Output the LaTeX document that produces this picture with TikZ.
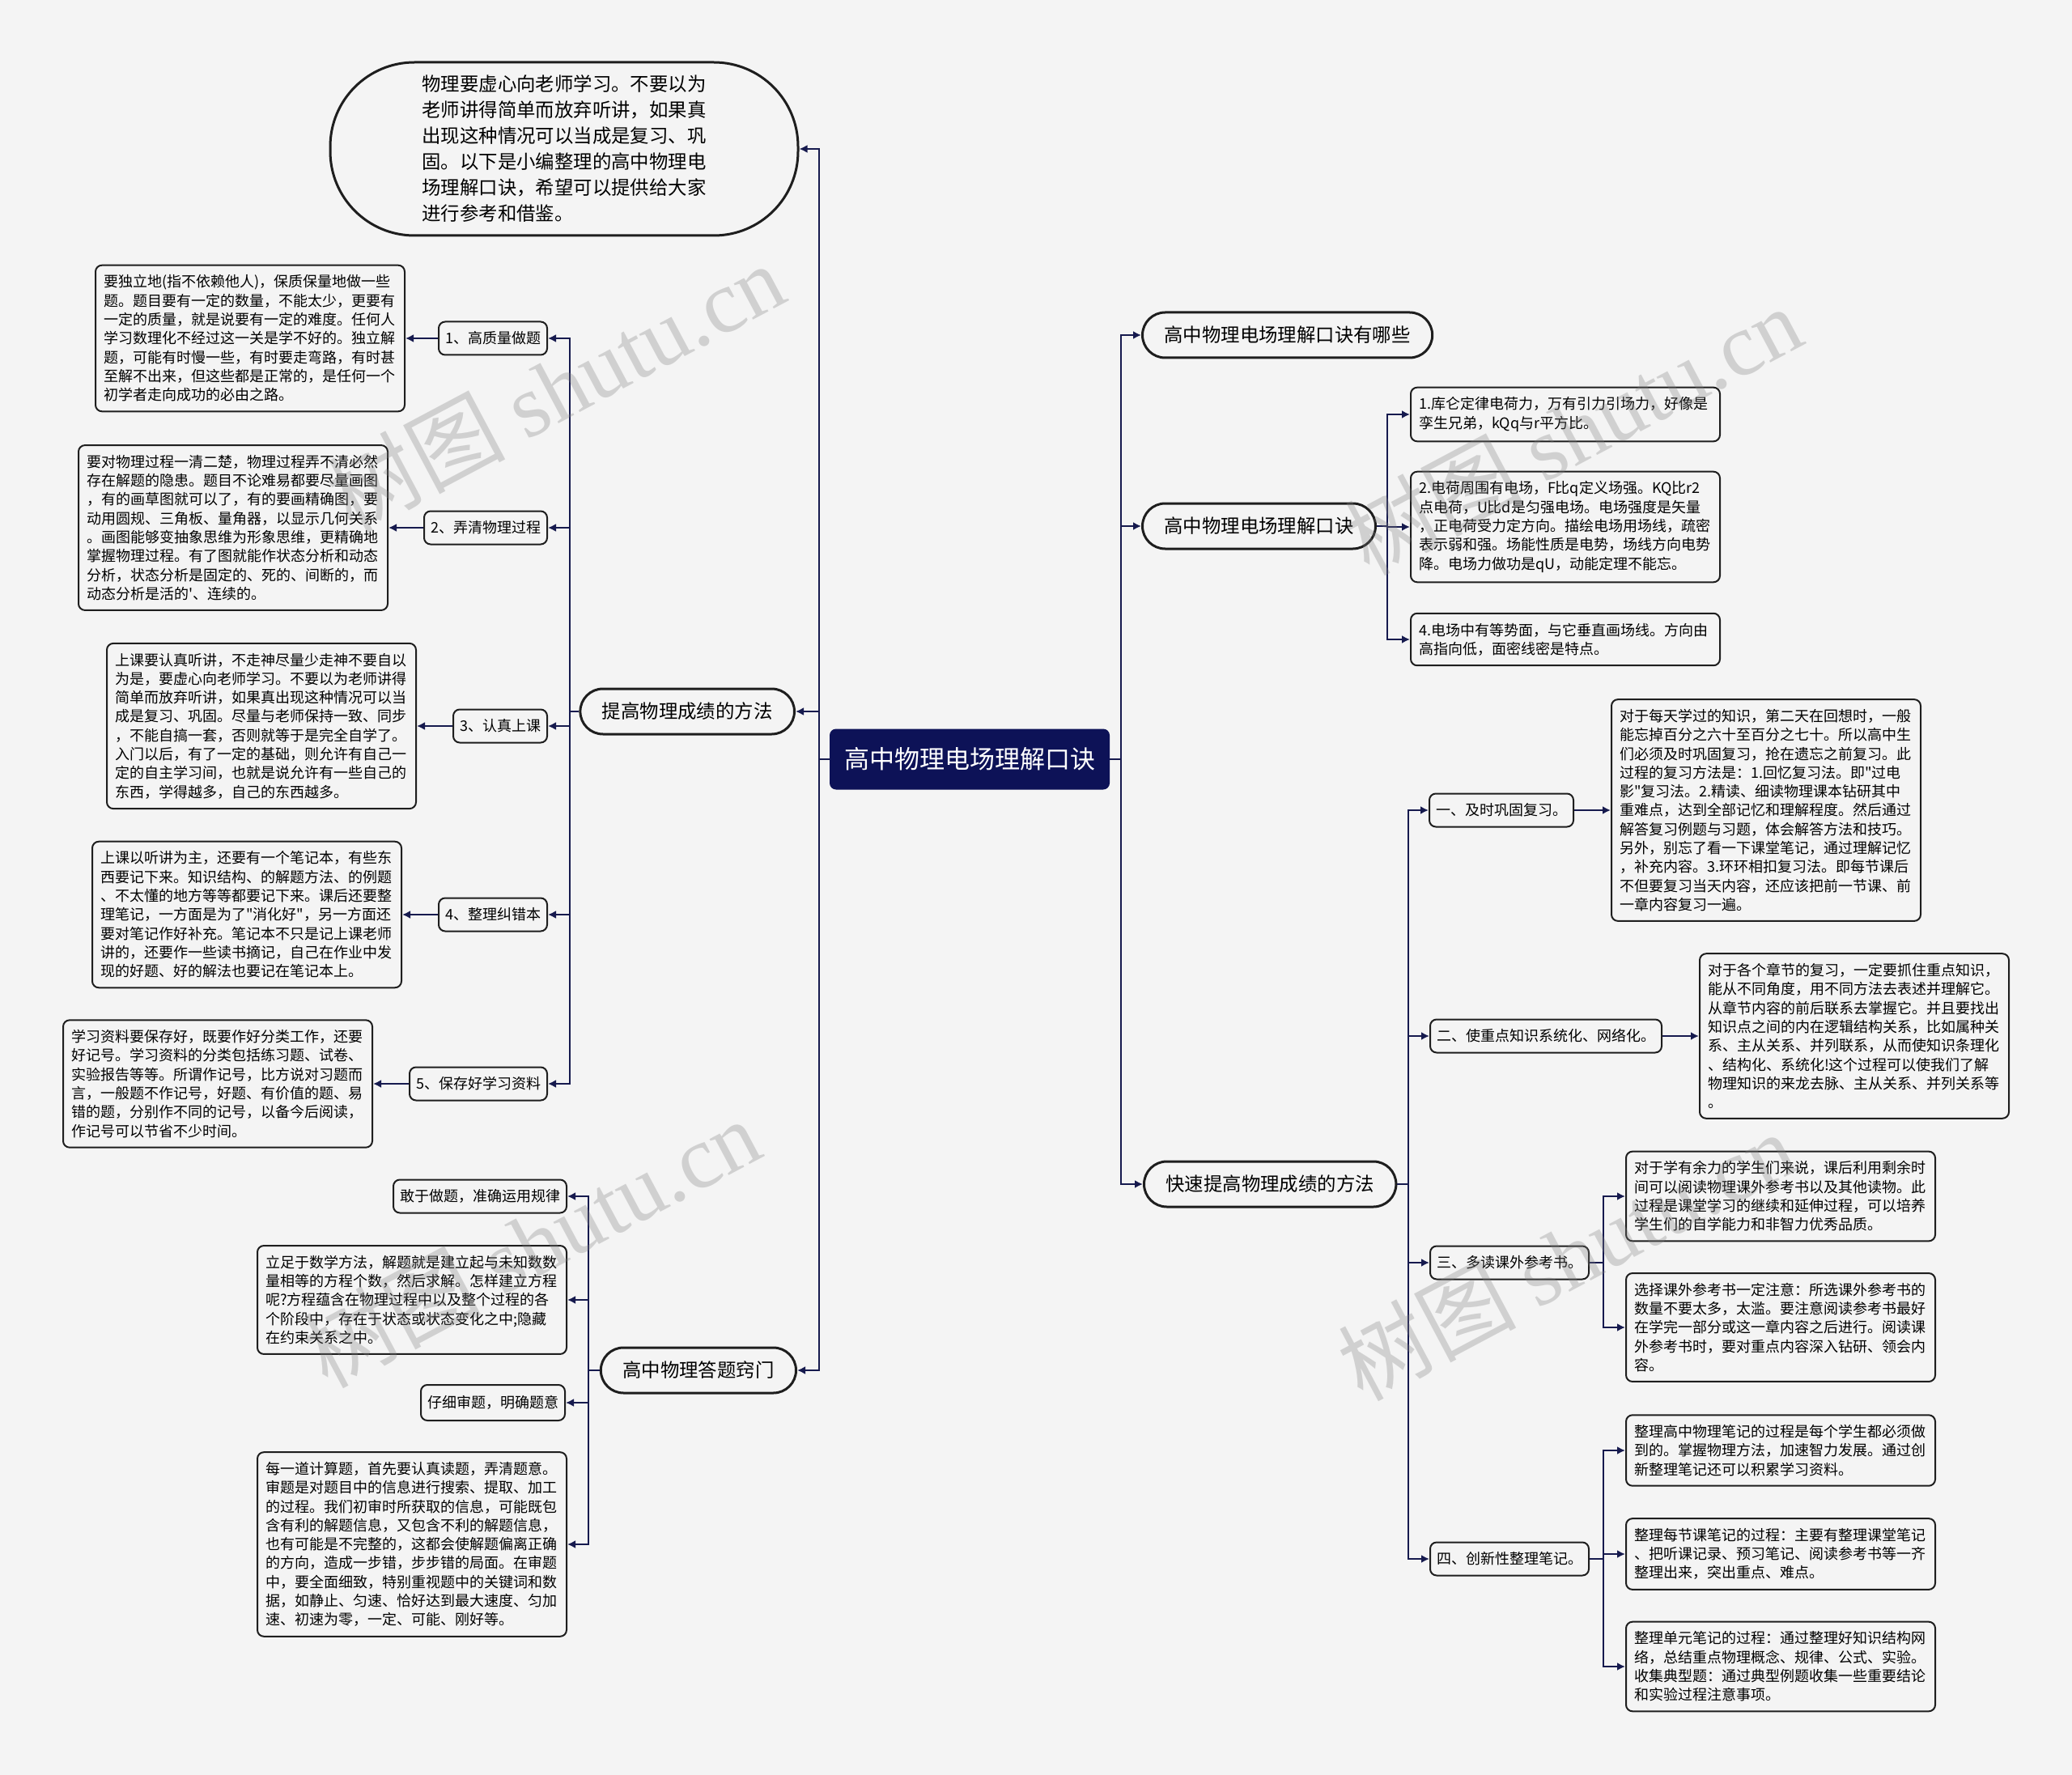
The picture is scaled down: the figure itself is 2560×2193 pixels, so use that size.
\documentclass[tikz,border=0pt]{standalone}
\usepackage{fontspec}
\setmainfont{Noto Sans CJK SC}[Ligatures=TeXOff]
\newfontfamily\wmlatin{Liberation Serif}
\usetikzlibrary{arrows.meta}
\definecolor{bg}{RGB}{244,244,244}
\definecolor{navy}{RGB}{13,18,87}
\definecolor{lnk}{RGB}{22,26,78}
\definecolor{bd}{RGB}{30,30,30}
\begin{document}
\begin{tikzpicture}[x=0.5pt,y=-0.5pt,
  conn/.style={draw=lnk,line width=1.4pt},
  arr/.style={conn,-{Latex[length=5pt,width=5pt]}},
  txtbox/.style={draw=bd,line width=1pt,fill=bg,rounded corners=4pt,align=left,text width=181pt,inner xsep=5pt,inner ysep=6pt,font=\fontsize{9}{11.65}\selectfont},
  lvtwo/.style={draw=bd,line width=1pt,fill=bg,rounded corners=4pt,inner xsep=4pt,inner ysep=0pt,minimum height=20.5pt,font=\fontsize{9}{11}\selectfont},
  pill/.style={draw=bd,line width=1.5pt,fill=bg,rounded corners=14pt,inner xsep=13.5pt,inner ysep=0pt,minimum height=28pt,font=\fontsize{11.7}{14}\selectfont},
  introbox/.style={draw=bd,line width=1.5pt,fill=bg,rounded corners=52pt,minimum width=289pt,minimum height=107pt,align=left,font=\fontsize{11.7}{16}\selectfont},
  rootbox/.style={fill=navy,text=white,rounded corners=4pt,minimum width=173pt,minimum height=37.5pt,font=\fontsize{15.5}{18}\selectfont},
  wm/.style={rotate=28,text=gray,opacity=0.3,font=\fontsize{55}{60}\selectfont}
]
\useasboundingbox (0,0) rectangle (2560,2193);
\fill[bg] (0,0) rectangle (2560,2193);

% root
\node[rootbox] (root) at (1198,938) {高中物理电场理解口诀};

% level one
\node[introbox] (intro) at (697,184) {物理要虚心向老师学习。不要以为\\老师讲得简单而放弃听讲，如果真\\出现这种情况可以当成是复习、巩\\固。以下是小编整理的高中物理电\\场理解口诀，希望可以提供给大家\\进行参考和借鉴。};
\node[pill,anchor=east] (tg) at (983,879) {提高物理成绩的方法};
\node[pill,anchor=east] (dt) at (985,1693) {高中物理答题窍门};
\node[pill,anchor=west] (yx) at (1410,414) {高中物理电场理解口诀有哪些};
\node[pill,anchor=west] (kj) at (1410,650) {高中物理电场理解口诀};
\node[pill,anchor=west] (ks) at (1412,1463) {快速提高物理成绩的方法};

% left: 提高物理成绩的方法
\node[lvtwo,anchor=east] (t1) at (677,418) {1、高质量做题};
\node[lvtwo,anchor=east] (t2) at (677,652) {2、弄清物理过程};
\node[lvtwo,anchor=east] (t3) at (677,897) {3、认真上课};
\node[lvtwo,anchor=east] (t4) at (677,1130) {4、整理纠错本};
\node[lvtwo,anchor=east] (t5) at (677,1339) {5、保存好学习资料};

\node[txtbox,anchor=east] (b1) at (501,418) {要独立地(指不依赖他人)，保质保量地做一些\\题。题目要有一定的数量，不能太少，更要有\\一定的质量，就是说要有一定的难度。任何人\\学习数理化不经过这一关是学不好的。独立解\\题，可能有时慢一些，有时要走弯路，有时甚\\至解不出来，但这些都是正常的，是任何一个\\初学者走向成功的必由之路。};
\node[txtbox,anchor=east] (b2) at (480,652) {要对物理过程一清二楚，物理过程弄不清必然\\存在解题的隐患。题目不论难易都要尽量画图\\，有的画草图就可以了，有的要画精确图，要\\动用圆规、三角板、量角器，以显示几何关系\\。画图能够变抽象思维为形象思维，更精确地\\掌握物理过程。有了图就能作状态分析和动态\\分析，状态分析是固定的、死的、间断的，而\\动态分析是活的'、连续的。};
\node[txtbox,anchor=east] (b3) at (515,897) {上课要认真听讲，不走神尽量少走神不要自以\\为是，要虚心向老师学习。不要以为老师讲得\\简单而放弃听讲，如果真出现这种情况可以当\\成是复习、巩固。尽量与老师保持一致、同步\\，不能自搞一套，否则就等于是完全自学了。\\入门以后，有了一定的基础，则允许有自己一\\定的自主学习间，也就是说允许有一些自己的\\东西，学得越多，自己的东西越多。};
\node[txtbox,anchor=east] (b4) at (497,1130) {上课以听讲为主，还要有一个笔记本，有些东\\西要记下来。知识结构、的解题方法、的例题\\、不太懂的地方等等都要记下来。课后还要整\\理笔记，一方面是为了"消化好"，另一方面还\\要对笔记作好补充。笔记本不只是记上课老师\\讲的，还要作一些读书摘记，自己在作业中发\\现的好题、好的解法也要记在笔记本上。};
\node[txtbox,anchor=east] (b5) at (461,1339) {学习资料要保存好，既要作好分类工作，还要\\好记号。学习资料的分类包括练习题、试卷、\\实验报告等等。所谓作记号，比方说对习题而\\言，一般题不作记号，好题、有价值的题、易\\错的题，分别作不同的记号，以备今后阅读，\\作记号可以节省不少时间。};

% left: 高中物理答题窍门
\node[lvtwo,anchor=east] (d1) at (701,1478) {敢于做题，准确运用规律};
\node[txtbox,anchor=east] (d2) at (701,1606) {立足于数学方法，解题就是建立起与未知数数\\量相等的方程个数，然后求解。怎样建立方程\\呢?方程蕴含在物理过程中以及整个过程的各\\个阶段中，存在于状态或状态变化之中;隐藏\\在约束关系之中。};
\node[lvtwo,anchor=east,minimum height=22pt] (d3) at (699,1733) {仔细审题，明确题意};
\node[txtbox,anchor=east] (d4) at (701,1908) {每一道计算题，首先要认真读题，弄清题意。\\审题是对题目中的信息进行搜索、提取、加工\\的过程。我们初审时所获取的信息，可能既包\\含有利的解题信息，又包含不利的解题信息，\\也有可能是不完整的，这都会使解题偏离正确\\的方向，造成一步错，步步错的局面。在审题\\中，要全面细致，特别重视题中的关键词和数\\据，如静止、匀速、恰好达到最大速度、匀加\\速、初速为零，一定、可能、刚好等。};

% right: 口诀
\node[txtbox,anchor=west] (e1) at (1742,512) {1.库仑定律电荷力，万有引力引场力，好像是\\孪生兄弟，kQq与r平方比。};
\node[txtbox,anchor=west] (e2) at (1742,651) {2.电荷周围有电场，F比q定义场强。KQ比r2\\点电荷，U比d是匀强电场。电场强度是矢量\\，正电荷受力定方向。描绘电场用场线，疏密\\表示弱和强。场能性质是电势，场线方向电势\\降。电场力做功是qU，动能定理不能忘。};
\node[txtbox,anchor=west] (e4) at (1742,790) {4.电场中有等势面，与它垂直画场线。方向由\\高指向低，面密线密是特点。};

% right: 快速提高物理成绩的方法
\node[lvtwo,anchor=west] (r1) at (1765,1001) {一、及时巩固复习。};
\node[lvtwo,anchor=west] (r2) at (1766,1280) {二、使重点知识系统化、网络化。};
\node[lvtwo,anchor=west] (r3) at (1766,1560) {三、多读课外参考书。};
\node[lvtwo,anchor=west] (r4) at (1766,1926) {四、创新性整理笔记。};

\node[txtbox,anchor=west] (rb1) at (1990,1001) {对于每天学过的知识，第二天在回想时，一般\\能忘掉百分之六十至百分之七十。所以高中生\\们必须及时巩固复习，抢在遗忘之前复习。此\\过程的复习方法是：1.回忆复习法。即"过电\\影"复习法。2.精读、细读物理课本钻研其中\\重难点，达到全部记忆和理解程度。然后通过\\解答复习例题与习题，体会解答方法和技巧。\\另外，别忘了看一下课堂笔记，通过理解记忆\\，补充内容。3.环环相扣复习法。即每节课后\\不但要复习当天内容，还应该把前一节课、前\\一章内容复习一遍。};
\node[txtbox,anchor=west] (rb2) at (2099,1280) {对于各个章节的复习，一定要抓住重点知识，\\能从不同角度，用不同方法去表述并理解它。\\从章节内容的前后联系去掌握它。并且要找出\\知识点之间的内在逻辑结构关系，比如属种关\\系、主从关系、并列联系，从而使知识条理化\\、结构化、系统化!这个过程可以使我们了解\\物理知识的来龙去脉、主从关系、并列关系等\\。};
\node[txtbox,anchor=west] (rb3a) at (2008,1478) {对于学有余力的学生们来说，课后利用剩余时\\间可以阅读物理课外参考书以及其他读物。此\\过程是课堂学习的继续和延伸过程，可以培养\\学生们的自学能力和非智力优秀品质。};
\node[txtbox,anchor=west] (rb3b) at (2008,1640) {选择课外参考书一定注意：所选课外参考书的\\数量不要太多，太滥。要注意阅读参考书最好\\在学完一部分或这一章内容之后进行。阅读课\\外参考书时，要对重点内容深入钻研、领会内\\容。};
\node[txtbox,anchor=west] (rb4a) at (2008,1792) {整理高中物理笔记的过程是每个学生都必须做\\到的。掌握物理方法，加速智力发展。通过创\\新整理笔记还可以积累学习资料。};
\node[txtbox,anchor=west] (rb4b) at (2008,1920) {整理每节课笔记的过程：主要有整理课堂笔记\\、把听课记录、预习笔记、阅读参考书等一齐\\整理出来，突出重点、难点。};
\node[txtbox,anchor=west] (rb4c) at (2008,2059) {整理单元笔记的过程：通过整理好知识结构网\\络，总结重点物理概念、规律、公式、实验。\\收集典型题：通过典型例题收集一些重要结论\\和实验过程注意事项。};

% junction coordinates
\coordinate (LT) at (1012,938);
\coordinate (RT) at (1385,938);
\coordinate (TG) at (704,879);
\coordinate (DT) at (727,1693);
\coordinate (KJ) at (1714,650);
\coordinate (KS) at (1740,1463);
\coordinate (R3) at (1981,1560);
\coordinate (R4) at (1981,1926);

% connectors
\draw[conn] (root.west) -- (LT);
\draw[arr] (LT) |- (intro.east);
\draw[arr] (LT) |- (tg.east);
\draw[arr] (LT) |- (dt.east);
\draw[conn] (root.east) -- (RT);
\draw[arr] (RT) |- (yx.west);
\draw[arr] (RT) |- (kj.west);
\draw[arr] (RT) |- (ks.west);

\draw[conn] (tg.west) -- (TG);
\foreach \n in {t1,t2,t3,t4,t5} \draw[arr] (TG) |- (\n.east);
\draw[arr] (t1.west) -- (b1.east);
\draw[arr] (t2.west) -- (b2.east);
\draw[arr] (t3.west) -- (b3.east);
\draw[arr] (t4.west) -- (b4.east);
\draw[arr] (t5.west) -- (b5.east);

\draw[conn] (dt.west) -- (DT);
\foreach \n in {d1,d2,d3,d4} \draw[arr] (DT) |- (\n.east);

\draw[conn] (kj.east) -- (KJ);
\foreach \n in {e1,e2,e4} \draw[arr] (KJ) |- (\n.west);

\draw[conn] (ks.east) -- (KS);
\foreach \n in {r1,r2,r3,r4} \draw[arr] (KS) |- (\n.west);
\draw[arr] (r1.east) -- (rb1.west);
\draw[arr] (r2.east) -- (rb2.west);
\draw[conn] (r3.east) -- (R3);
\foreach \n in {rb3a,rb3b} \draw[arr] (R3) |- (\n.west);
\draw[conn] (r4.east) -- (R4);
\foreach \n in {rb4a,rb4b,rb4c} \draw[arr] (R4) |- (\n.west);

% watermark
\node[wm] (w1) at (686,478) {树图 {\wmlatin shutu.cn}};
\node[wm] (w2) at (1943,531) {树图 {\wmlatin shutu.cn}};
\node[wm] (w3) at (656,1535) {树图 {\wmlatin shutu.cn}};
\node[wm] (w4) at (1935,1551) {树图 {\wmlatin shutu.cn}};
\end{tikzpicture}
\end{document}
